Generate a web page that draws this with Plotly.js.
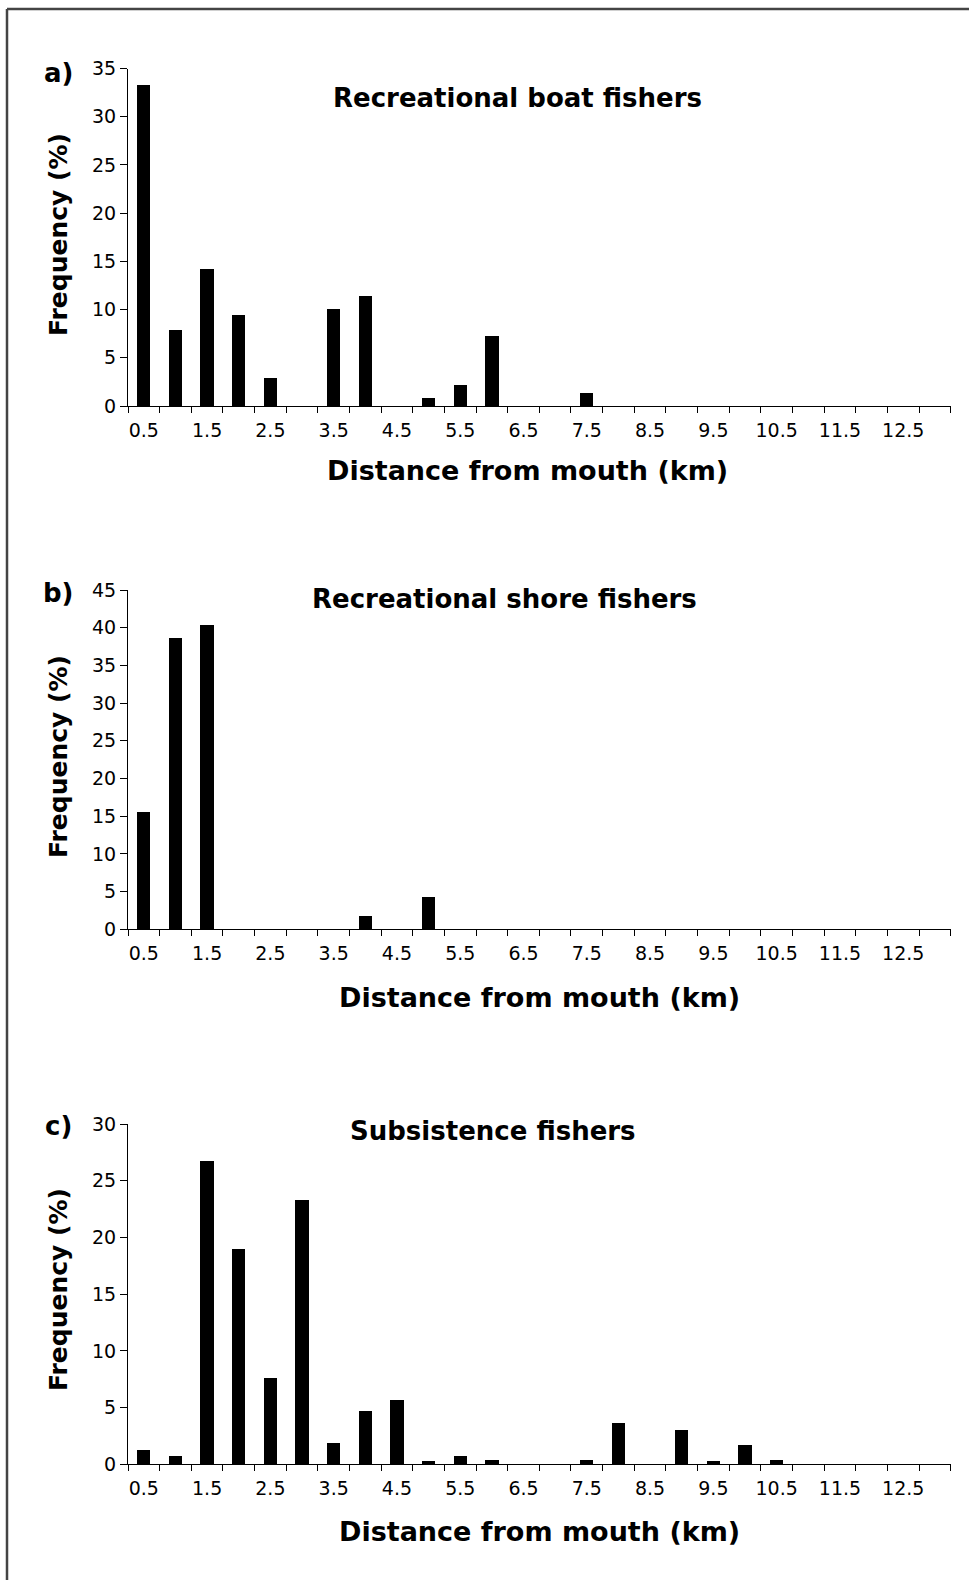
<!DOCTYPE html>
<html>
<head>
<meta charset="utf-8">
<script src="https://cdn.plot.ly/plotly-3.0.1.min.js"></script>
<style>html,body{margin:0;padding:0;background:#fff;}#chart{width:969px;height:1580px;}</style>
</head>
<body>
<div id="chart"></div>
<script>
// ---- data ----
const distances = [0.5, 1, 1.5, 2, 2.5, 3, 3.5, 4, 4.5, 5, 5.5, 6, 6.5, 7, 7.5, 8, 8.5, 9, 9.5, 10, 10.5, 11, 11.5, 12, 12.5, 13];
const tickVals = [0.5, 1.5, 2.5, 3.5, 4.5, 5.5, 6.5, 7.5, 8.5, 9.5, 10.5, 11.5, 12.5];
const tickLabels = ['0.5', '1.5', '2.5', '3.5', '4.5', '5.5', '6.5', '7.5', '8.5', '9.5', '10.5', '11.5', '12.5'];
const boatFishers = [33.3, 7.9, 14.2, 9.4, 2.9, 0, 10.1, 11.4, 0, 0.8, 2.2, 7.3, 0, 0, 1.4, 0, 0, 0, 0, 0, 0, 0, 0, 0, 0, 0];
const shoreFishers = [15.5, 38.6, 40.4, 0, 0, 0, 0, 1.7, 0, 4.3, 0, 0, 0, 0, 0, 0, 0, 0, 0, 0, 0, 0, 0, 0, 0, 0];
const subsistenceFishers = [1.3, 0.7, 26.7, 19.0, 7.6, 23.3, 1.9, 4.7, 5.7, 0.3, 0.7, 0.4, 0, 0, 0.4, 3.6, 0, 3.0, 0.3, 1.7, 0.4, 0, 0, 0, 0, 0];
const panelTitles = ['Recreational boat fishers', 'Recreational shore fishers', 'Subsistence fishers'];
const panelLetters = ['a)', 'b)', 'c)'];
const yMax = [35, 45, 30];
const xTitle = 'Distance from mouth (km)';
const yTitle = 'Frequency (%)';

// ---- layout helpers (pixel -> paper) ----
const W = 969, H = 1580;
const px = x => x / W;
const py = y => 1 - y / H;
const FONT = 'DejaVu Sans, Lato, sans-serif';
const TICKSIZE = 19;

const series = [boatFishers, shoreFishers, subsistenceFishers];
const plotTop = [68.5, 590, 1124];
const plotBottom = [406, 929.3, 1464.3];
const xLeft = 128, xRight = 950.7;

const traces = series.map((vals, i) => ({
  type: 'bar',
  x: distances,
  y: vals,
  width: 0.21,
  marker: {color: '#000', line: {width: 0}},
  xaxis: i === 0 ? 'x' : 'x' + (i + 1),
  yaxis: i === 0 ? 'y' : 'y' + (i + 1),
  hoverinfo: 'x+y',
  showlegend: false
}));

const layout = {
  width: W, height: H,
  margin: {l: 0, r: 0, t: 0, b: 0},
  paper_bgcolor: '#fff', plot_bgcolor: '#fff',
  font: {family: FONT, color: '#000', size: TICKSIZE},
  showlegend: false,
  bargap: 0,
  annotations: [],
  shapes: [
    {type: 'line', xref: 'paper', yref: 'paper', x0: px(7), x1: 1, y0: py(9), y1: py(9), line: {color: '#444', width: 2.5}},
    {type: 'line', xref: 'paper', yref: 'paper', x0: px(7), x1: px(7), y0: py(9), y1: 0, line: {color: '#444', width: 2.5}}
  ]
};

const titleX = [517, 504, 493];
const titleY = [98, 599, 1131];
const letterY = [73, 593, 1126];
const yTitleY = [235, 757, 1290];
const xTitleY = [470, 997, 1531];
const xTitleX = [527, 539, 539];

for (let i = 0; i < 3; i++) {
  const s = i === 0 ? '' : String(i + 1);
  layout['xaxis' + s] = {
    domain: [px(xLeft), px(xRight)],
    anchor: 'y' + s,
    range: [0.25, 13.25],
    tickmode: 'array', tickvals: tickVals, ticktext: tickLabels,
    ticks: 'outside', ticklen: 7, tickcolor: 'rgba(0,0,0,0)',
    minor: {tickmode: 'linear', tick0: 0.25, dtick: 0.5, ticks: 'outside', ticklen: 6, tickwidth: 1, tickcolor: '#000', showgrid: false},
    showline: true, linecolor: '#000', linewidth: 1,
    showgrid: false, zeroline: false,
    tickfont: {family: FONT, size: TICKSIZE, color: '#000'},
    fixedrange: true
  };
  layout['yaxis' + s] = {
    domain: [py(plotBottom[i]), py(plotTop[i])],
    anchor: 'x' + s,
    range: [0, yMax[i]],
    tickmode: 'linear', tick0: 0, dtick: 5,
    ticks: 'outside', ticklen: 7, tickwidth: 1, tickcolor: '#000',
    showline: true, linecolor: '#000', linewidth: 1,
    showgrid: false, zeroline: false,
    tickfont: {family: FONT, size: TICKSIZE, color: '#000'},
    fixedrange: true
  };
  layout.annotations.push(
    {xref: 'paper', yref: 'paper', x: px(titleX[i]), y: py(titleY[i]), xanchor: 'center', yanchor: 'middle', showarrow: false,
     text: '<b>' + panelTitles[i] + '</b>', font: {family: FONT, size: 26, color: '#000'}},
    {xref: 'paper', yref: 'paper', x: px(58), y: py(letterY[i]), xanchor: 'center', yanchor: 'middle', showarrow: false,
     text: '<b>' + panelLetters[i] + '</b>', font: {family: FONT, size: 26, color: '#000'}},
    {xref: 'paper', yref: 'paper', x: px(58), y: py(yTitleY[i]), xanchor: 'center', yanchor: 'middle', showarrow: false, textangle: -90,
     text: '<b>' + yTitle + '</b>', font: {family: FONT, size: 25, color: '#000'}},
    {xref: 'paper', yref: 'paper', x: px(xTitleX[i]), y: py(xTitleY[i]), xanchor: 'center', yanchor: 'middle', showarrow: false,
     text: '<b>' + xTitle + '</b>', font: {family: FONT, size: 27, color: '#000'}}
  );
}

Plotly.newPlot('chart', traces, layout, {staticPlot: true, displayModeBar: false});
</script>
</body>
</html>
